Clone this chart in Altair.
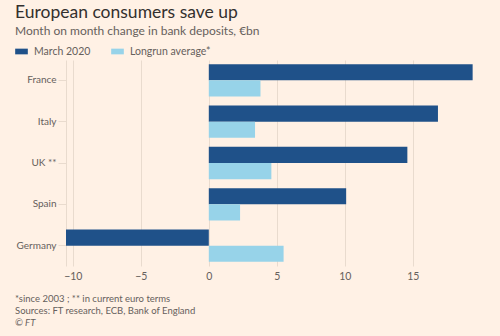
import altair as alt
import pandas as pd

countries = ["France", "Italy", "UK **", "Spain", "Germany"]
march_2020 = [19.4, 16.85, 14.6, 10.1, -10.5]
longrun_avg = [3.8, 3.4, 4.6, 2.3, 5.5]
series = ["March 2020", "Longrun average*"]
x_ticks = [-10, -5, 0, 5, 10, 15]
footnotes = ["*since 2003 ; ** in current euro terms",
             "Sources: FT research, ECB, Bank of England",
             "© FT"]

BG = "#fff1e5"
DARK = "#1f5189"
LIGHT = "#97d3e9"
GRID = "#e9dbce"
TXT = "#66605c"
FONT = "Lato"

rows = []
for c, m, a in zip(countries, march_2020, longrun_avg):
    rows.append({"country": c, "series": series[0], "value": m})
    rows.append({"country": c, "series": series[1], "value": a})
df = pd.DataFrame(rows)

bars = alt.Chart(df).mark_bar().encode(
    y=alt.Y("country:N", sort=countries,
            scale=alt.Scale(paddingInner=0.22, paddingOuter=0.1),
            axis=alt.Axis(title=None, labelColor=TXT, labelFontSize=10, labelFont=FONT,
                          tickColor=GRID, tickSize=8, domainColor=GRID, labelPadding=2)),
    yOffset=alt.YOffset("series:N", sort=series, scale=alt.Scale(domain=series, paddingInner=0)),
    x=alt.X("value:Q", scale=alt.Scale(domain=[-10.5, 19.5], nice=False, zero=False),
            axis=alt.Axis(values=x_ticks, title=None, grid=True, gridColor=GRID, domain=False,
                          ticks=False, labelPadding=5, labelColor=TXT, labelFontSize=10.5,
                          labelFont=FONT)),
    color=alt.Color("series:N", sort=series,
                    scale=alt.Scale(domain=series, range=[DARK, LIGHT]),
                    legend=alt.Legend(title=None, orient="none", legendX=-51, legendY=-15,
                                      direction="horizontal",
                                      symbolType="M-1,-0.45H1V0.45H-1Z", symbolSize=160,
                                      symbolStrokeWidth=0, labelFontSize=10.5, labelFont=FONT,
                                      labelColor=TXT, columnPadding=20, labelOffset=6)),
)

foot_layers = []
for i, t in enumerate(footnotes):
    foot_layers.append(
        alt.Chart(pd.DataFrame({"t": [t]})).mark_text(
            align="left", baseline="middle", fontSize=9.5, font=FONT, color=TXT,
            fontStyle="italic" if i == 2 else "normal"
        ).encode(text="t:N", x=alt.value(-51), y=alt.value(239 + 12 * i))
    )

chart = alt.layer(bars, *foot_layers).properties(
    width=408, height=206,
    padding={"left": 66, "top": 60, "right": 26, "bottom": 70},
    autosize=alt.AutoSizeParams(type="none"),
    background=BG,
    title=alt.TitleParams(text="European consumers save up",
                          subtitle="Month on month change in bank deposits, €bn",
                          anchor="start", frame="group", dx=-51, fontSize=17.5,
                          font=FONT, fontWeight="normal", color="#33302e",
                          subtitleFont=FONT, subtitleFontSize=12, subtitleColor=TXT,
                          subtitlePadding=5, offset=8),
).configure_view(stroke=None)

chart.save("out.html", embed_options={"renderer": "svg", "actions": False})
